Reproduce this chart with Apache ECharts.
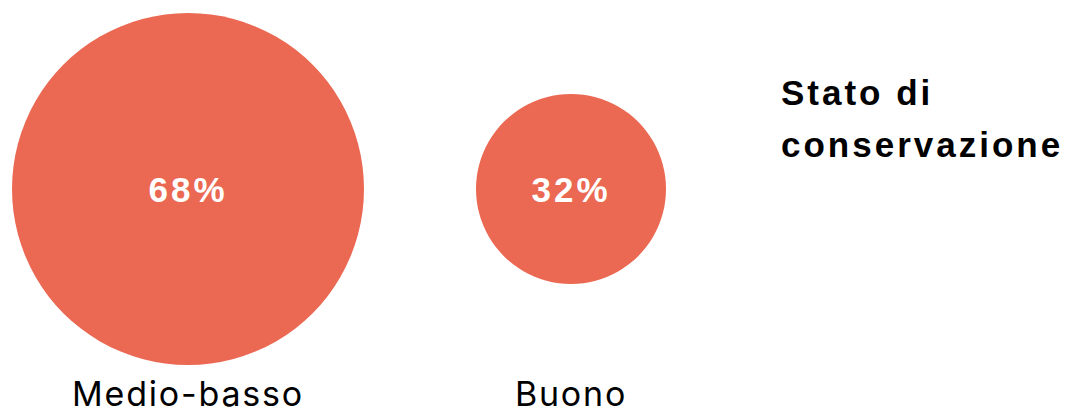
<!DOCTYPE html>
<html>
<head>
<meta charset="utf-8">
<script src="https://cdn.jsdelivr.net/npm/echarts@6/dist/echarts.min.js"></script>
<style>
  html, body { margin: 0; padding: 0; background: #fff; }
  #chart { width: 1068px; height: 413px; }
  /* testo leggermente spaziato come nell'originale */
  #chart svg text { letter-spacing: 1.8px; }
  #chart svg text[style*="bold"] { letter-spacing: 3px; }
</style>
</head>
<body>
<div id="chart"></div>
<script>
// categorie e percentuali
var categories = ['Medio-basso', 'Buono'];
var values = [68, 32];

var chart = echarts.init(document.getElementById('chart'), null, { renderer: 'svg' });

var option = {
    animation: false,
    title: {
        text: 'Stato di\nconservazione',
        left: 776,
        top: 61,
        textStyle: {
            fontFamily: 'Liberation Sans',
            fontSize: 35,
            fontWeight: 'bold',
            color: '#000',
            lineHeight: 52
        }
    },
    grid: { left: 188, width: 383, top: 12, height: 354 },
    xAxis: {
        type: 'category',
        data: categories,
        boundaryGap: false,
        axisLine: { show: false },
        axisTick: { show: false },
        splitLine: { show: false },
        axisLabel: {
            margin: 10,
            fontFamily: 'Inter',
            fontSize: 34,
            color: '#000'
        }
    },
    yAxis: { type: 'value', min: 0, max: 1, show: false },
    series: [{
        type: 'scatter',
        data: values.map(function (v, i) { return [i, 0.5, v]; }),
        symbol: 'circle',
        // diametro lineare sul valore
        symbolSize: function (d) { return 46 + 4.5 * d[2]; },
        itemStyle: { color: '#EB6852', opacity: 1 },
        label: {
            show: true,
            position: 'inside',
            formatter: function (p) { return p.data[2] + '%'; },
            fontFamily: 'Liberation Sans',
            fontSize: 35,
            fontWeight: 'bold',
            color: '#fff'
        }
    }]
};

chart.setOption(option);
</script>
</body>
</html>
